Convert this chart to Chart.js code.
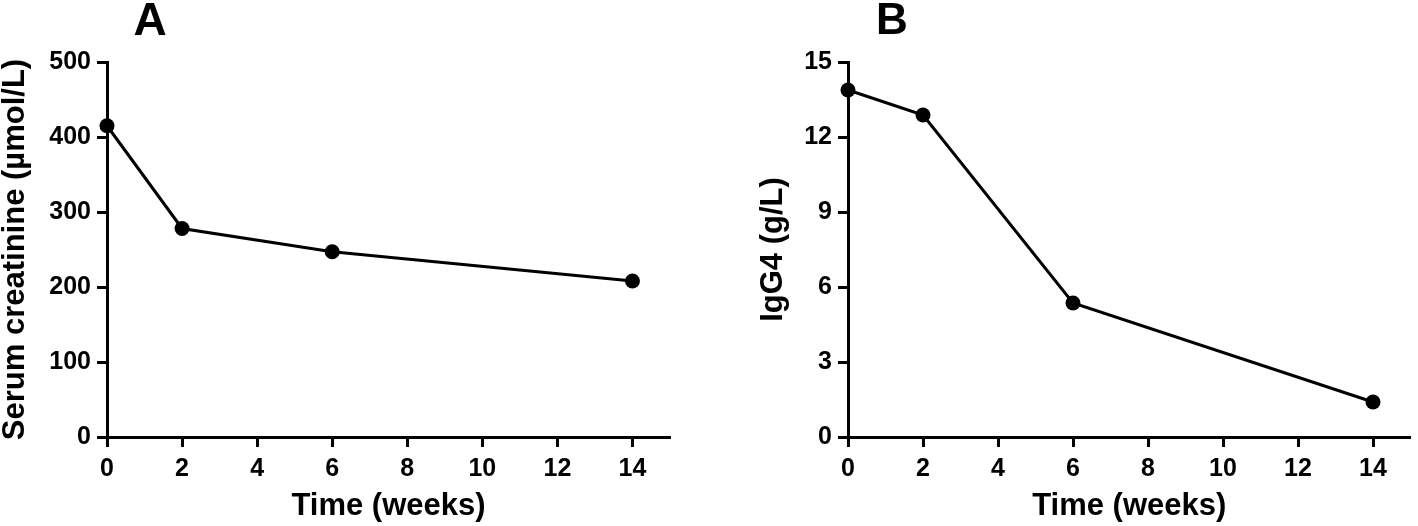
<!DOCTYPE html>
<html>
<head>
<meta charset="utf-8">
<script src="https://cdn.jsdelivr.net/npm/chart.js@4"></script>
<style>
  html, body { margin: 0; padding: 0; background: #fff; }
  body { width: 1418px; height: 526px; position: relative; overflow: hidden; }
  .panel { position: absolute; top: 0; height: 526px; }
  #panelA { left: 0; width: 700px; }
  #panelB { left: 758px; width: 660px; }
</style>
</head>
<body>
<div class="panel" id="panelA"><canvas id="chartA"></canvas></div>
<div class="panel" id="panelB"><canvas id="chartB"></canvas></div>
<script>
// values
const weeks = [0, 2, 6, 14];
const creatinine = [415, 278, 247, 208];
const igg4 = [13.88, 12.88, 5.36, 1.4];

const weekTicks = [0, 2, 4, 6, 8, 10, 12, 14];
const creatinineTicks = [0, 100, 200, 300, 400, 500];
const igg4Ticks = [0, 3, 6, 9, 12, 15];

const FONT = "'Liberation Sans', Arial, Helvetica, sans-serif";
const tickFont = { family: FONT, size: 25, weight: "bold", lineHeight: 1.2 };
const titleFont = { family: FONT, size: 31, weight: "bold", lineHeight: 1 };

// big panel letter above the plot
const panelLetter = {
    id: "panelLetter",
    afterDraw(chart, args, opts) {
        const ctx = chart.ctx;
        ctx.save();
        ctx.fillStyle = "#000";
        ctx.font = "bold " + opts.size + "px " + FONT;
        ctx.textAlign = "center";
        ctx.textBaseline = "middle";
        ctx.fillText(
            opts.text,
            chart.chartArea.left + opts.dx,
            opts.y
        );
        ctx.restore();
    }
};

function makeChart(id, letter, yTitle, values, yTicks, yMax, yWidth, padRight) {

    const points = weeks.map((w, i) => ({ x: w, y: values[i] }));

    const axisStyle = {
        grid: {
            drawOnChartArea: false,
            drawTicks: true,
            tickLength: 10,
            tickWidth: 3,
            tickColor: "#000"
        },
        border: { display: true, color: "#000", width: 3 }
    };

    return new Chart(
        document.getElementById(id),
        {
            type: "line",
            data: {
                datasets: [{
                    data: points,
                    borderColor: "#000",
                    backgroundColor: "#000",
                    borderWidth: 3,
                    pointRadius: 7.5,
                    pointHoverRadius: 7.5,
                    pointBackgroundColor: "#000",
                    pointBorderWidth: 0,
                    tension: 0,
                    clip: false
                }]
            },
            options: {
                responsive: true,
                maintainAspectRatio: false,
                animation: false,
                events: [],
                layout: { padding: { top: 62, left: 0, right: padRight, bottom: 0 } },
                plugins: {
                    legend: { display: false },
                    tooltip: { enabled: false },
                    panelLetter: letter
                },
                scales: {
                    x: {
                        type: "linear",
                        min: 0,
                        max: 15,
                        ...axisStyle,
                        afterBuildTicks: s => {
                            s.ticks = weekTicks.map(v => ({ value: v }));
                        },
                        afterFit: s => { s.height = 89; },
                        ticks: {
                            color: "#000",
                            padding: 7,
                            maxRotation: 0,
                            font: tickFont
                        },
                        title: {
                            display: true,
                            text: "Time (weeks)",
                            color: "#000",
                            padding: { top: 0, bottom: 4 },
                            font: titleFont
                        }
                    },
                    y: {
                        type: "linear",
                        min: 0,
                        max: yMax,
                        ...axisStyle,
                        afterBuildTicks: s => {
                            s.ticks = yTicks.map(v => ({ value: v }));
                        },
                        afterFit: s => { s.width = yWidth; },
                        ticks: {
                            color: "#000",
                            padding: 6,
                            font: tickFont
                        },
                        title: {
                            display: true,
                            text: yTitle,
                            color: "#000",
                            padding: 0,
                            font: titleFont
                        }
                    }
                }
            },
            plugins: [panelLetter]
        }
    );
}

makeChart(
    "chartA",
    { text: "A", size: 46, dx: 43, y: 22 },
    "Serum creatinine (\u00b5mol/L)",
    creatinine,
    creatinineTicks,
    500,
    107,
    30
);

makeChart(
    "chartB",
    { text: "B", size: 44, dx: 44, y: 22 },
    "IgG4 (g/L)",
    igg4,
    igg4Ticks,
    15,
    90,
    4
);
</script>
</body>
</html>
